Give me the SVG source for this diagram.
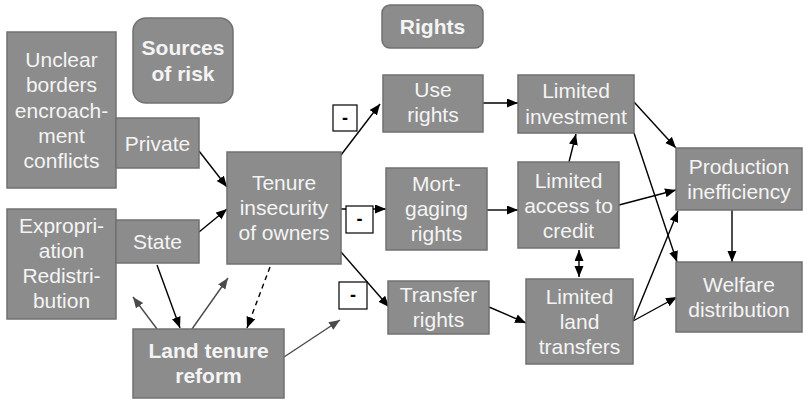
<svg xmlns="http://www.w3.org/2000/svg" width="803" height="401" viewBox="0 0 803 401">
<style>
.box{fill:#8c8c8c;stroke:#707070;stroke-width:1.5}
.t{font-family:"Liberation Sans",Arial,sans-serif;font-size:21px;fill:#f4f4f4;text-anchor:middle}
.b{font-weight:bold}
.minus{fill:#fff;stroke:#000;stroke-width:1.2}
.mt{font-family:"Liberation Sans",Arial,sans-serif;font-size:18px;font-weight:bold;fill:#000;text-anchor:middle}
.c{fill:none;stroke:#000;stroke-width:1.4}
.g{fill:none;stroke:#4a4a4a;stroke-width:1.4}
</style>
<defs>
<marker id="ah" markerUnits="userSpaceOnUse" markerWidth="12" markerHeight="10" refX="11" refY="4.5" orient="auto-start-reverse"><path d="M0,0 L11,4.5 L0,9 z" fill="#000"/></marker>
<marker id="ag" markerUnits="userSpaceOnUse" markerWidth="12" markerHeight="10" refX="11" refY="4.5" orient="auto"><path d="M0,0 L11,4.5 L0,9 z" fill="#4a4a4a"/></marker>
</defs>
<rect width="803" height="401" fill="#fff"/>

<g id="connectors">
<line class="c" x1="199" y1="151" x2="227" y2="187" marker-end="url(#ah)"/>
<line class="c" x1="199" y1="232" x2="227" y2="209" marker-end="url(#ah)"/>
<line class="c" x1="341" y1="155" x2="380" y2="104" marker-end="url(#ah)"/>
<line class="c" x1="341" y1="209" x2="386" y2="209" marker-end="url(#ah)"/>
<line class="c" x1="341" y1="252" x2="389" y2="307" marker-end="url(#ah)"/>
<line class="c" x1="483" y1="103" x2="518" y2="103" marker-end="url(#ah)"/>
<line class="c" x1="487" y1="210" x2="518" y2="210" marker-end="url(#ah)"/>
<line class="c" x1="489" y1="307" x2="526" y2="323" marker-end="url(#ah)"/>
<line class="c" x1="569" y1="162" x2="576" y2="134" marker-end="url(#ah)"/>
<line class="c" x1="634" y1="102" x2="676" y2="148" marker-end="url(#ah)"/>
<line class="c" x1="634" y1="133" x2="677" y2="262" marker-end="url(#ah)"/>
<line class="c" x1="619" y1="205" x2="676" y2="190" marker-end="url(#ah)"/>
<line class="c" x1="633" y1="321" x2="678" y2="211" marker-end="url(#ah)"/>
<line class="c" x1="633" y1="321" x2="677" y2="297" marker-end="url(#ah)"/>
<line class="c" x1="732" y1="210" x2="732" y2="262" marker-end="url(#ah)"/>
<line class="c" x1="579" y1="250" x2="579" y2="277" marker-start="url(#ah)" marker-end="url(#ah)"/>
<line class="c" x1="157" y1="265" x2="180" y2="328" marker-end="url(#ah)"/>
<line class="c" x1="270" y1="267" x2="247" y2="328" stroke-dasharray="5,4" marker-end="url(#ah)"/>
<line class="g" x1="157" y1="329" x2="133" y2="297" marker-end="url(#ag)"/>
<line class="g" x1="192" y1="329" x2="228" y2="278" marker-end="url(#ag)"/>
<line class="g" x1="284" y1="357" x2="340" y2="320" marker-end="url(#ag)"/>
</g>

<g id="unclear"><rect class="box" x="7" y="32" width="109" height="156"/>
<text class="t" x="61.5" y="67">Unclear</text><text class="t" x="61.5" y="92.3">borders</text><text class="t" x="61.5" y="117.5">encroach-</text><text class="t" x="61.5" y="142.8">ment</text><text class="t" x="61.5" y="168">conflicts</text></g>

<g id="sources"><rect class="box" x="133" y="18" width="100" height="85" rx="13"/>
<text class="t b" x="183" y="55">Sources</text><text class="t b" x="183" y="81">of risk</text></g>

<g id="private"><rect class="box" x="116" y="118" width="83" height="50"/>
<text class="t" x="157.5" y="151">Private</text></g>

<g id="expropriation"><rect class="box" x="7" y="209" width="109" height="110"/>
<text class="t" x="61.5" y="233">Expropri-</text><text class="t" x="61.5" y="258">ation</text><text class="t" x="61.5" y="283">Redistri-</text><text class="t" x="61.5" y="308">bution</text></g>

<g id="state"><rect class="box" x="116" y="220" width="83" height="43"/>
<text class="t" x="157.5" y="249">State</text></g>

<g id="tenure"><rect class="box" x="227" y="152" width="114" height="112"/>
<text class="t" x="284" y="190">Tenure</text><text class="t" x="284" y="215">insecurity</text><text class="t" x="284" y="240">of owners</text></g>

<g id="reform"><rect class="box" x="133" y="329" width="151" height="69"/>
<text class="t b" x="208.5" y="358">Land tenure</text><text class="t b" x="208.5" y="383">reform</text></g>

<g id="rights"><rect class="box" x="382" y="5" width="101" height="43" rx="8"/>
<text class="t b" x="432.5" y="34">Rights</text></g>

<g id="use"><rect class="box" x="383" y="75" width="100" height="57"/>
<text class="t" x="433" y="97">Use</text><text class="t" x="433" y="122">rights</text></g>

<g id="mortgaging"><rect class="box" x="386" y="168" width="101" height="82"/>
<text class="t" x="436.5" y="191">Mort-</text><text class="t" x="436.5" y="216">gaging</text><text class="t" x="436.5" y="241">rights</text></g>

<g id="transfer"><rect class="box" x="388" y="281" width="101" height="53"/>
<text class="t" x="438.5" y="302">Transfer</text><text class="t" x="438.5" y="327">rights</text></g>

<g id="investment"><rect class="box" x="518" y="75" width="116" height="58"/>
<text class="t" x="576" y="98">Limited</text><text class="t" x="576" y="124">investment</text></g>

<g id="credit"><rect class="box" x="518" y="162" width="101" height="86"/>
<text class="t" x="568.5" y="188">Limited</text><text class="t" x="568.5" y="213">access to</text><text class="t" x="568.5" y="238">credit</text></g>

<g id="landtransfers"><rect class="box" x="526" y="279" width="107" height="85"/>
<text class="t" x="579.5" y="304">Limited</text><text class="t" x="579.5" y="329">land</text><text class="t" x="579.5" y="354">transfers</text></g>

<g id="production"><rect class="box" x="676" y="148" width="126" height="62"/>
<text class="t" x="739" y="174">Production</text><text class="t" x="739" y="199">inefficiency</text></g>

<g id="welfare"><rect class="box" x="676" y="262" width="126" height="70"/>
<text class="t" x="739" y="292">Welfare</text><text class="t" x="739" y="317">distribution</text></g>

<g id="minus1"><rect class="minus" x="333" y="105" width="24" height="26"/><text class="mt" x="345" y="124">-</text></g>
<g id="minus2"><rect class="minus" x="346" y="206" width="27" height="27"/><text class="mt" x="359.5" y="225">-</text></g>
<g id="minus3"><rect class="minus" x="339" y="282" width="28" height="27"/><text class="mt" x="353" y="301">-</text></g>
</svg>
